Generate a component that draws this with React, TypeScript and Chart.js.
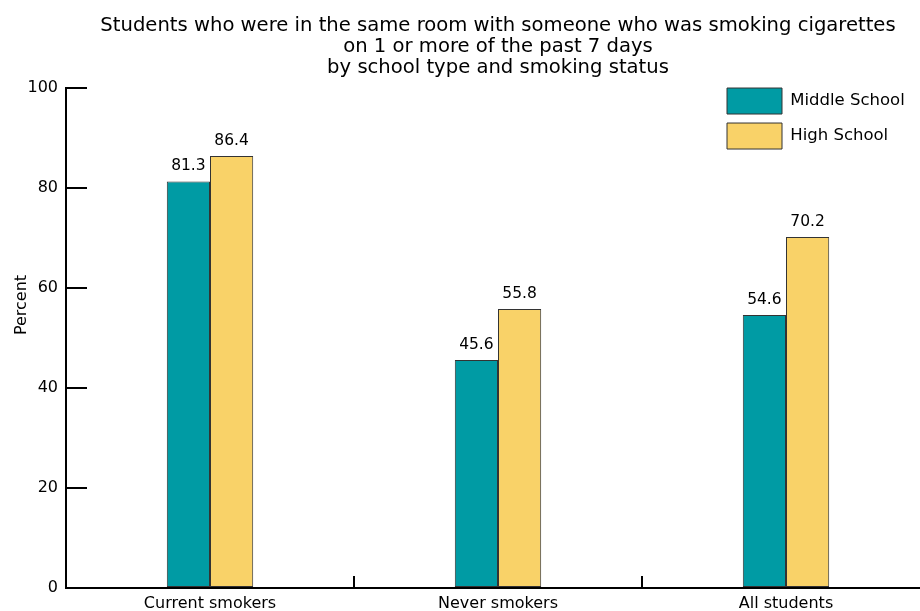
import React, { useEffect, useRef } from "react";
import { Chart, registerables } from "chart.js";

Chart.register(...registerables);

const categories = ["Current smokers", "Never smokers", "All students"];
const middleSchool = [81.3, 45.6, 54.6];
const highSchool = [86.4, 55.8, 70.2];
const seriesLabels = ["Middle School", "High School"];
const titleLines = [
  "Students who were in the same room with someone who was smoking cigarettes",
  "on 1 or more of the past 7 days",
  "by school type and smoking status",
];
const yAxisTitle = "Percent";
const yMin = 0;
const yMax = 100;
const yStep = 20;

const FONT = "'DejaVu Sans', Verdana, sans-serif";

const legendPlacer = {
  id: "legendPlacer",
  afterLayout(chart: any) {
    const lg = chart.legend;
    if (!lg) return;
    const pad = 9;
    lg.left = chart.chartArea.right - 203 - pad;
    lg.top = chart.chartArea.top - pad;
  },
};

const valueLabels = {
  id: "valueLabels",
  afterDatasetsDraw(chart: any) {
    const ctx = chart.ctx;
    ctx.save();
    ctx.font = `15.5px ${FONT}`;
    ctx.fillStyle = "#000";
    ctx.textAlign = "center";
    ctx.textBaseline = "alphabetic";
    chart.data.datasets.forEach((ds: any, i: number) => {
      const meta = chart.getDatasetMeta(i);
      meta.data.forEach((el: any, j: number) => {
        ctx.fillText(Number(ds.data[j]).toFixed(1), el.x, el.y - 11.5);
      });
    });
    ctx.restore();
  },
};

const yTitlePlugin = {
  id: "yTitlePlugin",
  afterDraw(chart: any) {
    const ctx = chart.ctx;
    const area = chart.chartArea;
    ctx.save();
    ctx.font = `16px ${FONT}`;
    ctx.fillStyle = "#000";
    ctx.textAlign = "center";
    ctx.textBaseline = "middle";
    ctx.translate(22, (area.top + area.bottom) / 2 - 33);
    ctx.rotate(-Math.PI / 2);
    ctx.fillText(yAxisTitle, 0, 0);
    ctx.restore();
  },
};

export default function App() {
  const ref = useRef<HTMLCanvasElement | null>(null);
  useEffect(() => {
    if (!ref.current) return;
    const chart = new Chart(ref.current, {
      type: "bar",
      data: {
        labels: categories,
        datasets: [
          {
            label: seriesLabels[0],
            data: middleSchool,
            backgroundColor: "#009ba4",
            borderColor: "#333333",
            borderWidth: 1,
            borderSkipped: false,
            categoryPercentage: 0.3,
            barPercentage: 1.0,
          },
          {
            label: seriesLabels[1],
            data: highSchool,
            backgroundColor: "#f9d268",
            borderColor: "#333333",
            borderWidth: 1,
            borderSkipped: false,
            categoryPercentage: 0.3,
            barPercentage: 1.0,
          },
        ],
      },
      options: {
        responsive: false,
        animation: false,
        layout: { padding: { left: 0, right: 10, top: 0, bottom: 0 } },
        plugins: {
          tooltip: { enabled: false },
          title: {
            display: true,
            text: titleLines,
            fullSize: false,
            color: "#000",
            font: { family: FONT, size: 19.6, weight: "normal", lineHeight: 1.07 },
            padding: { top: 15, bottom: 10.1 },
          },
          legend: {
            position: "chartArea",
            align: "start",
            labels: {
              boxWidth: 55,
              boxHeight: 26,
              padding: 9,
              color: "#000",
              font: { family: FONT, size: 16.5 },
            },
          },
        },
        scales: {
          x: {
            grid: {
              offset: true,
              drawOnChartArea: false,
              tickLength: -12,
              color: "#000",
              lineWidth: 2,
            },
            border: { color: "#000", width: 2 },
            ticks: { color: "#000", font: { family: FONT, size: 16 }, padding: 18 },
            afterFit: (s: any) => {
              s.height = 23;
              s.paddingLeft = 0;
              s.paddingRight = 0;
            },
          },
          y: {
            min: yMin,
            max: yMax,
            ticks: {
              stepSize: yStep,
              padding: 29,
              color: "#000",
              font: { family: FONT, size: 16 },
            },
            grid: {
              drawOnChartArea: false,
              tickLength: -21,
              color: "#000",
              lineWidth: 2,
            },
            border: { color: "#000", width: 2 },
            afterFit: (s: any) => {
              s.width = 66;
              s.paddingTop = 0;
              s.paddingBottom = 0;
            },
          },
        },
      } as any,
      plugins: [legendPlacer, valueLabels, yTitlePlugin],
    });
    return () => chart.destroy();
  }, []);
  return (
    <div
      style={{
        position: "fixed",
        left: 0,
        top: 0,
        width: 920,
        height: 611,
        overflow: "hidden",
        background: "#fff",
      }}
    >
      <canvas ref={ref} width={940} height={611} style={{ display: "block" }} />
    </div>
  );
}
